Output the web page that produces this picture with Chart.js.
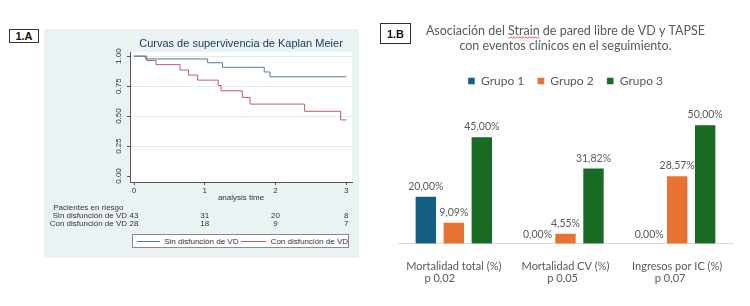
<!DOCTYPE html>
<html>
<head>
<meta charset="utf-8">
<script src="https://cdn.jsdelivr.net/npm/chart.js@4.4.1/dist/chart.umd.min.js"></script>
<style>
html, body { margin: 0; padding: 0; background: #fff; }
body { width: 750px; height: 306px; position: relative; overflow: hidden; }
.tag { position: absolute; box-sizing: border-box; border: 1px solid #333; color: #111;
       font: bold 11px "Liberation Sans", Arial, sans-serif; display: flex; align-items: center; justify-content: center; }
#panelA { position: absolute; left: 44px; top: 29px; width: 315px; height: 229px; background: #eaf2f3; }
#km { position: absolute; left: 0; top: 0; }
#kmLegend { position: absolute; left: 88px; top: 205px; width: 217px; height: 14px; box-sizing: border-box;
            background: #fff; border: 1px solid #8a8a8a; white-space: nowrap;
            font: 8px "Liberation Sans", Arial, sans-serif; color: #333; display: flex; align-items: center; padding-left: 4px; }
#kmLegend .ln { display: inline-block; height: 1px; }
#bars { position: absolute; left: 370px; top: 0; }
</style>
</head>
<body>
<div class="tag" style="left:9px;top:29px;width:30px;height:14px;">1.A</div>
<div id="panelA">
  <canvas id="km" width="315" height="229"></canvas>
  <div id="kmLegend">
    <span class="ln" style="width:25px;background:#55799f;margin-right:4px;"></span><span>Sin disfunción de VD</span>
    <span class="ln" style="width:26px;background:#bf5c66;margin-left:3px;margin-right:5px;"></span><span>Con disfunción de VD</span>
  </div>
</div>
<canvas id="bars" width="380" height="306"></canvas>
<div class="tag" style="left:380px;top:23px;width:31px;height:21px;border-width:1.3px;">1.B</div>
<script>
// Kaplan-Meier (1.A)
const kmTitle = 'Curvas de supervivencia de Kaplan Meier';
const sinTime = [0, 0.16, 1.04, 1.25, 1.84, 1.92, 3];
const sinSurv = [1, 0.977, 0.945, 0.907, 0.868, 0.828, 0.828];
const conTime = [0, 0.18, 0.31, 0.65, 0.77, 0.90, 1.19, 1.23, 1.53, 1.64, 2.41, 2.92, 3];
const conSurv = [1, 0.964, 0.929, 0.884, 0.842, 0.800, 0.755, 0.711, 0.656, 0.600, 0.540, 0.468, 0.468];
const kmXTicks = [0, 1, 2, 3];
const kmYTicks = [0, 0.25, 0.5, 0.75, 1];
const riskHeader = 'Pacientes en riesgo';
const riskLabels = ['Sin disfunción de VD', 'Con disfunción de VD'];
const riskTimes = [0, 1, 2, 3];
const riskSin = [43, 31, 20, 8];
const riskCon = [28, 18, 9, 7];

// Barras (1.B)
const barTitle = ['Asociación del Strain de pared libre de VD y TAPSE', 'con eventos clínicos en el seguimiento.'];
const barCategories = ['Mortalidad total (%)', 'Mortalidad CV (%)', 'Ingresos por IC (%)'];
const barPValues = ['p 0,02', 'p 0,05', 'p 0,07'];
const groupNames = ['Grupo 1', 'Grupo 2', 'Grupo 3'];
const grupo1 = [20, 0, 0];
const grupo2 = [9.09, 4.55, 28.57];
const grupo3 = [45, 31.82, 50];

const stataFont = '"Liberation Sans", Arial, sans-serif';
const officeFont = 'Lato, "Open Sans", sans-serif';

const kmPlugin = {
  id: 'kmExtras',
  beforeDraw(chart) {
    const { ctx, chartArea: a } = chart;
    ctx.save();
    ctx.fillStyle = '#ffffff';
    ctx.fillRect(a.left, a.top, a.right - a.left, a.bottom - a.top);
    ctx.restore();
  },
  afterDraw(chart) {
    const { ctx, chartArea: a } = chart;
    const x = chart.scales.x;
    ctx.save();
    ctx.font = '8px ' + stataFont;
    ctx.fillStyle = '#333';
    ctx.textBaseline = 'middle';
    const labelRight = x.getPixelForValue(0) - 7;
    const w = Math.max(...riskLabels.map(l => ctx.measureText(l).width));
    ctx.textAlign = 'center';
    ctx.fillText(riskHeader, labelRight - w / 2, a.bottom + 26);
    [riskSin, riskCon].forEach((vals, r) => {
      const y = a.bottom + 34 + r * 7.5;
      ctx.textAlign = 'right';
      ctx.fillText(riskLabels[r], labelRight, y);
      ctx.textAlign = 'center';
      riskTimes.forEach((t, i) => ctx.fillText(String(vals[i]), x.getPixelForValue(t), y));
    });
    ctx.restore();
  }
};

new Chart(document.getElementById('km'), {
  type: 'line',
  data: {
    datasets: [
      { label: riskLabels[0], data: sinTime.map((t, i) => ({ x: t, y: sinSurv[i] })),
        borderColor: '#55799f', borderWidth: 1, pointRadius: 0, stepped: 'before', fill: false },
      { label: riskLabels[1], data: conTime.map((t, i) => ({ x: t, y: conSurv[i] })),
        borderColor: '#bf5c66', borderWidth: 1, pointRadius: 0, stepped: 'before', fill: false }
    ]
  },
  options: {
    responsive: false, animation: false, events: [],
    layout: { padding: { left: 0, right: 7, top: 0, bottom: 54 } },
    plugins: {
      legend: { display: false },
      tooltip: { enabled: false },
      title: { display: true, text: kmTitle, fullSize: false, color: '#1e3b66',
               font: { family: stataFont, size: 11, weight: 'normal', lineHeight: 1.2 },
               padding: { top: 8, bottom: 2 } }
    },
    scales: {
      x: {
        type: 'linear', min: -0.057, max: 3.08,
        afterBuildTicks: s => { s.ticks = kmXTicks.map(v => ({ value: v })); },
        afterFit: s => { s.height = 22; },
        ticks: { font: { family: stataFont, size: 8 }, color: '#333', padding: 1, maxRotation: 0, autoSkip: false,
                 callback: v => String(v) },
        grid: { drawOnChartArea: false, drawTicks: true, tickLength: 3, tickColor: '#555' },
        border: { color: '#555', width: 1 },
        title: { display: true, text: 'analysis time', color: '#333',
                 font: { family: stataFont, size: 8, lineHeight: 1.2 }, padding: { top: 0, bottom: 1 } }
      },
      y: {
        type: 'linear', min: -0.05, max: 1.033,
        afterBuildTicks: s => { s.ticks = kmYTicks.map(v => ({ value: v })); },
        afterFit: s => { s.width = 86; },
        ticks: { font: { family: stataFont, size: 8 }, color: '#333', padding: 0, minRotation: 90, maxRotation: 90,
                 crossAlign: 'center', callback: v => Number(v).toFixed(2) },
        grid: { color: c => (c.tick && c.tick.value === 0) ? 'rgba(0,0,0,0)' : '#e2ebee',
                tickLength: 3, tickColor: '#555', lineWidth: 1 },
        border: { color: '#555', width: 1 }
      }
    }
  },
  plugins: [kmPlugin]
});

const pPad = [10, 2, 5];
const pct = v => v.toFixed(2).replace('.', ',') + '%';

const barPlugin = {
  id: 'barExtras',
  afterDatasetsDraw(chart) {
    const { ctx } = chart;
    ctx.save();
    ctx.font = '10.5px ' + officeFont;
    ctx.fillStyle = '#595959';
    ctx.textAlign = 'center';
    ctx.textBaseline = 'middle';
    chart.data.datasets.forEach((ds, di) => {
      chart.getDatasetMeta(di).data.forEach((bar, i) => {
        ctx.fillText(pct(ds.data[i]), bar.x, bar.y - 9.5);
      });
    });
    ctx.restore();
  },
  afterDraw(chart) {
    // ondulado rojo bajo "Strain"
    const tb = chart.titleBlock;
    if (!tb) return;
    const { ctx } = chart;
    const opts = chart.options.plugins.title;
    ctx.save();
    ctx.font = opts.font.size + 'px ' + officeFont;
    const full = ctx.measureText(barTitle[0]).width;
    const pre = ctx.measureText('Asociación del ').width;
    const word = ctx.measureText('Strain').width;
    const cx = (tb.left + tb.right) / 2;
    const x0 = cx - full / 2 + pre;
    const y = tb.top + opts.padding.top + opts.font.size * opts.font.lineHeight / 2 + 6.5;
    ctx.strokeStyle = '#e04040';
    ctx.lineWidth = 0.8;
    ctx.beginPath();
    for (let xx = 0, k = 0; xx <= word; xx += 1.5, k++) {
      const yy = y + (k % 2 ? 0.9 : -0.9);
      if (k === 0) ctx.moveTo(x0 + xx, yy); else ctx.lineTo(x0 + xx, yy);
    }
    ctx.stroke();
    ctx.restore();
  }
};

new Chart(document.getElementById('bars'), {
  type: 'bar',
  data: {
    labels: barCategories,
    datasets: [
      { label: groupNames[0], data: grupo1, backgroundColor: '#156082' },
      { label: groupNames[1], data: grupo2, backgroundColor: '#E97132' },
      { label: groupNames[2], data: grupo3, backgroundColor: '#196B24' }
    ]
  },
  options: {
    responsive: false, animation: false, events: [],
    datasets: { bar: { categoryPercentage: 0.752, barPercentage: 0.786, borderColor: 'rgba(255,255,255,0.6)', borderWidth: 0.8 } },
    layout: { padding: { left: 28, right: 17, top: 0, bottom: 0 } },
    plugins: {
      tooltip: { enabled: false },
      title: { display: true, text: barTitle, fullSize: false, color: '#595959',
               font: { family: officeFont, size: 12.5, weight: 'normal', lineHeight: 1.2 },
               padding: { top: 23.5, bottom: 8.4 } },
      legend: { display: true, position: 'top', fullSize: false,
                labels: { boxWidth: 7, boxHeight: 7, padding: 13.1, color: '#595959',
                          font: { family: officeFont, size: 12 } } }
    },
    scales: {
      x: {
        afterFit: s => { s.height = 62.3; },
        grid: { display: false },
        border: { color: '#d9d9d9', width: 1 },
        ticks: { color: '#595959', padding: 8.3, font: { family: officeFont, size: 11, lineHeight: 1.09 },
                 callback: (v, i) => [barCategories[i], barPValues[i] + ' '.repeat(pPad[i])] }
      },
      y: { display: false, min: 0, max: 61.5 }
    }
  },
  plugins: [barPlugin]
});
</script>
</body>
</html>
